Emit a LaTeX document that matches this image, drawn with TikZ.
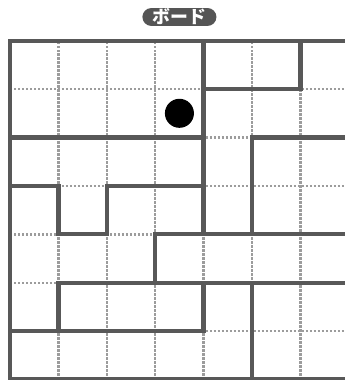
\documentclass[tikz,border=0pt]{standalone}
\usepackage{fontspec}
\newfontfamily\jpfont{Noto Sans CJK JP}
\usepackage{tikz}
\definecolor{wallgray}{HTML}{585858}
\definecolor{dotgray}{HTML}{9C9C9C}
\definecolor{tabgray}{HTML}{555555}

\begin{document}
\begin{tikzpicture}[
    wall/.style={draw=wallgray, line width=2.5pt, line cap=square, line join=miter},
    guide/.style={draw=dotgray, line width=1.4pt, dash pattern=on 1.3pt off 1.05pt},
    boardtab/.style={fill=tabgray, text=white, rounded corners=0.185cm,
        minimum width=1.53cm, minimum height=0.37cm, inner sep=0pt,
        font=\jpfont\bfseries\fontsize{10.5}{10.5}\selectfont}]
    % 画布大小
    \useasboundingbox (-0.207, -0.010) rectangle (6.921, 7.841);

    % 标题
    \node[boardtab] (title) at (3.5, 7.49) {ボード};

    % 点线网格
    \foreach \k in {1, ..., 6} {
        \draw[guide] (\k, 0) -- (\k, 7);
        \draw[guide] (0, \k) -- (7, \k);
    }

    % 外框
    \draw[wall] (0, 0) rectangle (7, 7);

    % 墙壁
    \draw[wall] (4, 7) -- (4, 3);
    \draw[wall] (4, 6) -- (6, 6) -- (6, 7);
    \draw[wall] (0, 5) -- (4, 5);
    \draw[wall] (5, 3) -- (5, 5) -- (7, 5);
    \draw[wall] (0, 4) -- (1, 4) -- (1, 3) -- (2, 3) -- (2, 4) -- (4, 4);
    \draw[wall] (3, 2) -- (3, 3) -- (7, 3);
    \draw[wall] (1, 1) -- (1, 2) -- (7, 2);
    \draw[wall] (0, 1) -- (4, 1) -- (4, 2);
    \draw[wall] (5, 0) -- (5, 2);

    % 球
    \fill (3.5, 5.5) circle (0.3);
\end{tikzpicture}
\end{document}
